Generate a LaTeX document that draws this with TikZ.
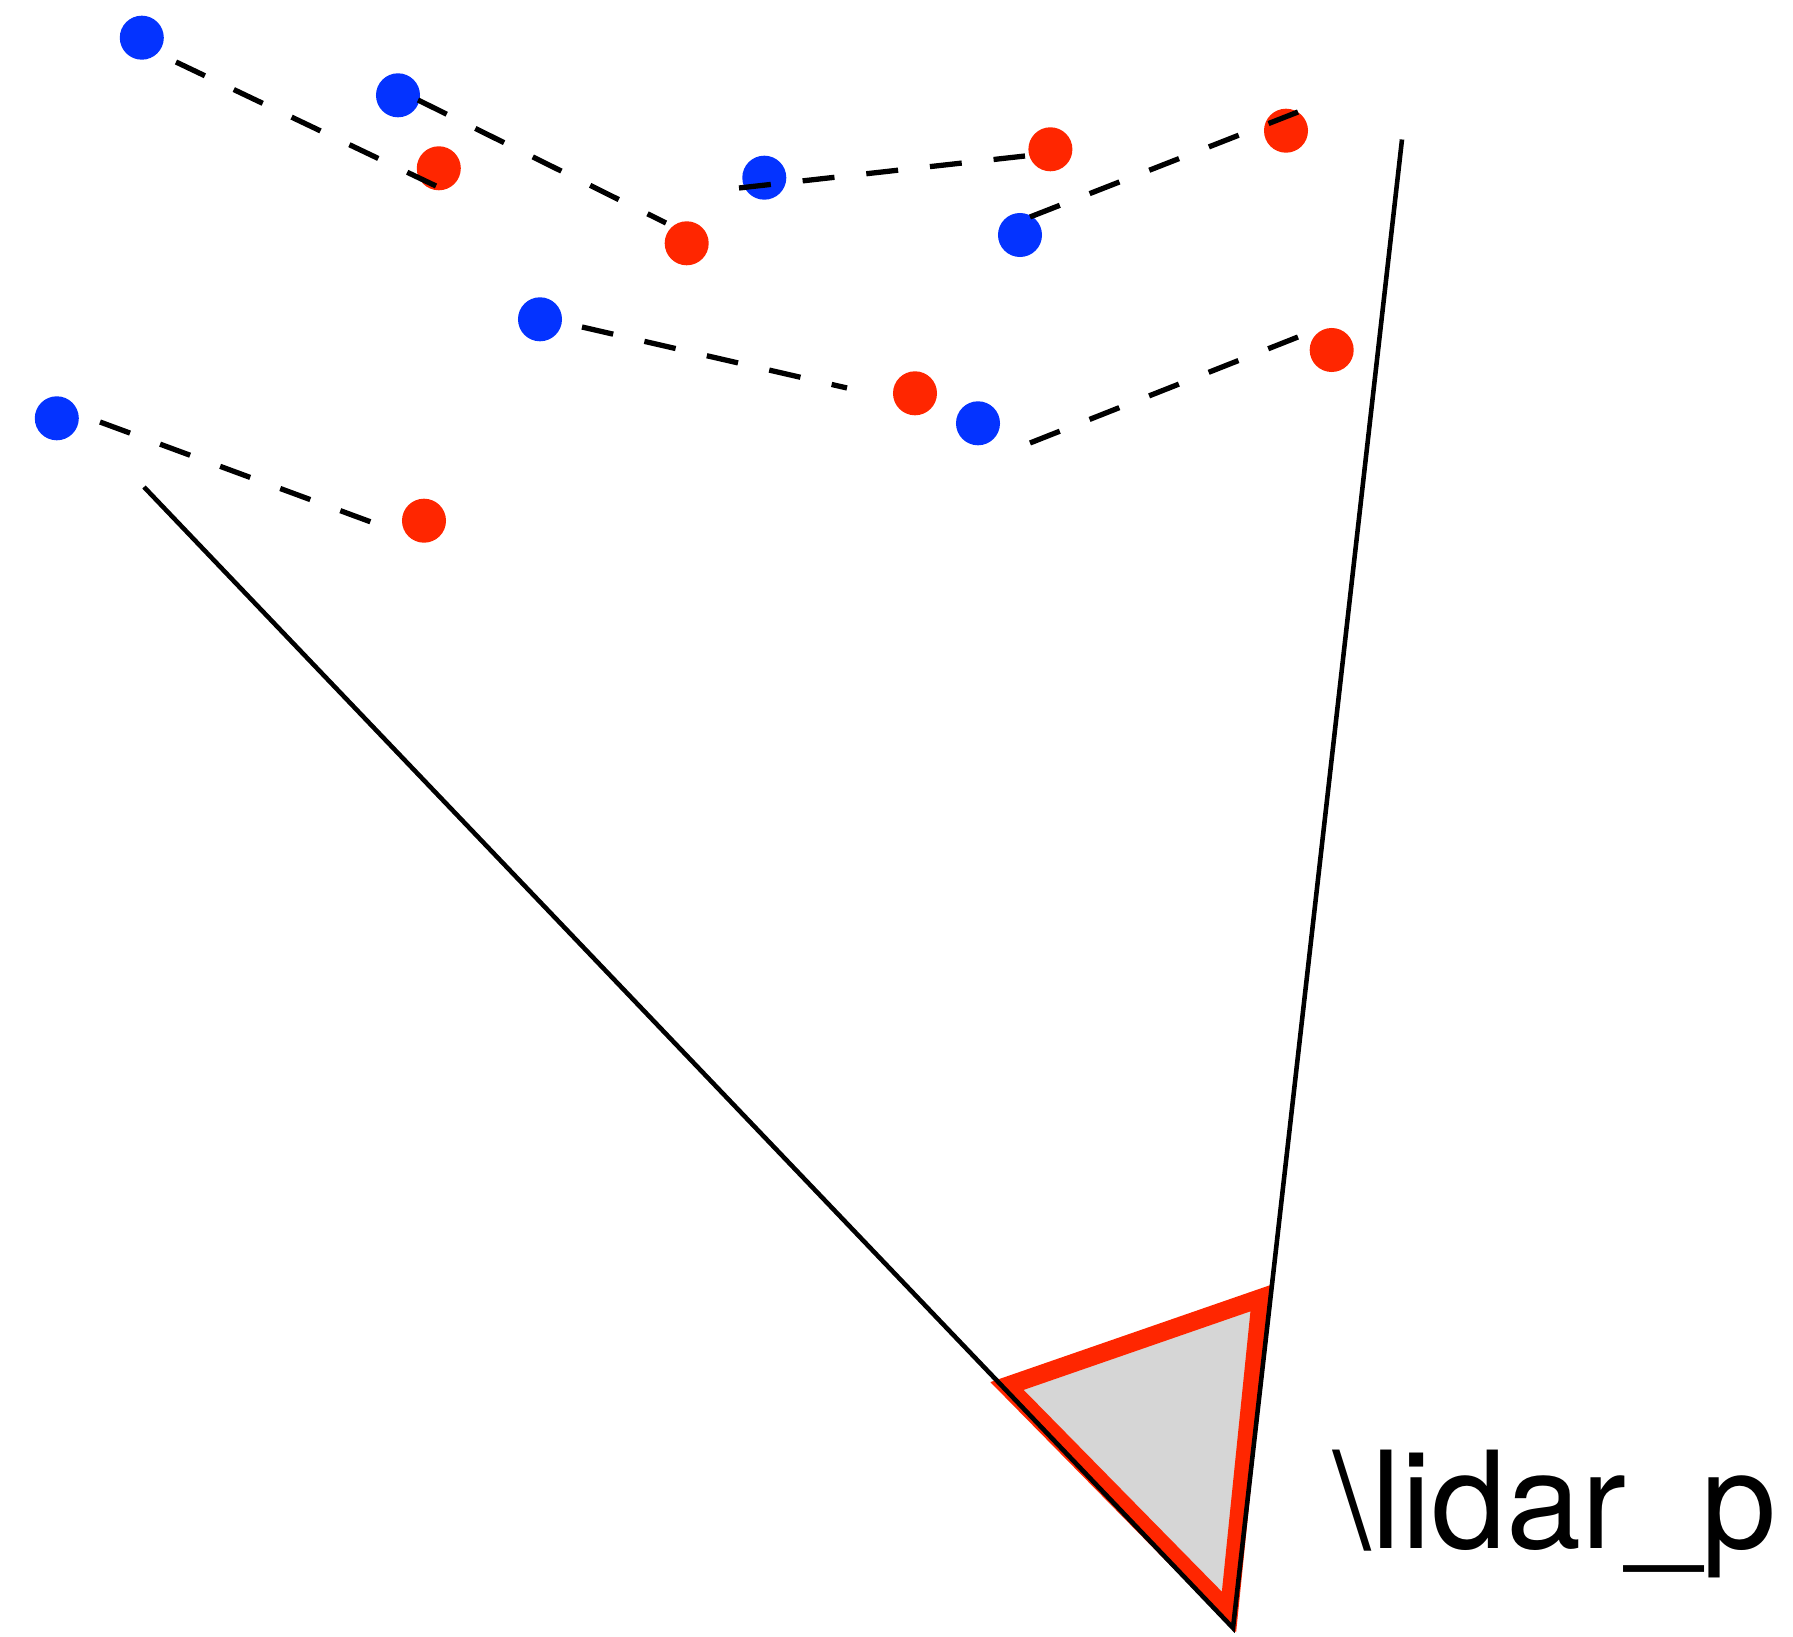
\documentclass[tikz,border=0pt]{standalone}
\usepackage{fontspec}
\setmainfont{TeX Gyre Heros}
\definecolor{dotblue}{RGB}{4,51,255}
\definecolor{dotred}{RGB}{255,38,0}
\definecolor{trigray}{RGB}{214,214,214}
\begin{document}
\begin{tikzpicture}[x=0.01cm,y=-0.01cm,
  bdot/.style={circle,fill=dotblue,inner sep=0pt,minimum size=0.44cm},
  rdot/.style={circle,fill=dotred,inner sep=0pt,minimum size=0.44cm},
  dline/.style={line width=1.5pt,dash pattern=on 0.32cm off 0.32cm},
  sline/.style={line width=1.3pt},
  lidarbox/.style={draw=dotred,fill=trigray,line width=5.2pt,line join=miter}]
\useasboundingbox (0,0) rectangle (1793,1637);
% dots
\node[bdot] (b1) at (141.8,37.7) {};
\node[bdot] (b2) at (398,95.3) {};
\node[bdot] (b3) at (764.3,177.7) {};
\node[bdot] (b4) at (1020,235) {};
\node[bdot] (b5) at (540,319.3) {};
\node[bdot] (b6) at (56.8,418.3) {};
\node[bdot] (b7) at (978,423.3) {};
\node[rdot] (r1) at (438.8,168.3) {};
\node[rdot] (r2) at (686.7,243.3) {};
\node[rdot] (r3) at (1050.4,149.3) {};
\node[rdot] (r4) at (1286,130.7) {};
\node[rdot] (r5) at (915,393.3) {};
\node[rdot] (r6) at (1331.7,350) {};
\node[rdot] (r7) at (424,520.7) {};
% dashed line ends
\coordinate (l1a) at (176,62);   \coordinate (l1b) at (436,186);
\coordinate (l2a) at (418,100);  \coordinate (l2b) at (666,223);
\coordinate (l3a) at (739,188);  \coordinate (l3b) at (1025,156);
\coordinate (l4a) at (1030,217); \coordinate (l4b) at (1298,112);
\coordinate (l5a) at (582,327);  \coordinate (l5b) at (847,388);
\coordinate (l6a) at (1030,443); \coordinate (l6b) at (1298,337);
\coordinate (l7a) at (100,422);  \coordinate (l7b) at (371,522);
\draw[dline] (l1a) -- (l1b);
\draw[dline] (l2a) -- (l2b);
\draw[dline] (l3a) -- (l3b);
\draw[dline] (l4a) -- (l4b);
\draw[dline] (l5a) -- (l5b);
\draw[dline] (l6a) -- (l6b);
\draw[dline] (l7a) -- (l7b);
% lidar triangle
\coordinate (t1) at (1007,1386);
\coordinate (t2) at (1261,1298);
\coordinate (t3) at (1229,1612);
\draw[lidarbox] (t1) -- (t2) -- (t3) -- cycle;
% field of view lines
\coordinate (fl) at (144,487);
\coordinate (fr) at (1402,139.5);
\coordinate (apex) at (1233,1628);
\draw[sline] (fl) -- (apex) -- (fr);
% label
\node[anchor=base west,inner sep=0pt,font=\fontsize{38.4pt}{46pt}\selectfont] (lbl) at (1333,1548) {\textbackslash lidar\_p};
\end{tikzpicture}
\end{document}
